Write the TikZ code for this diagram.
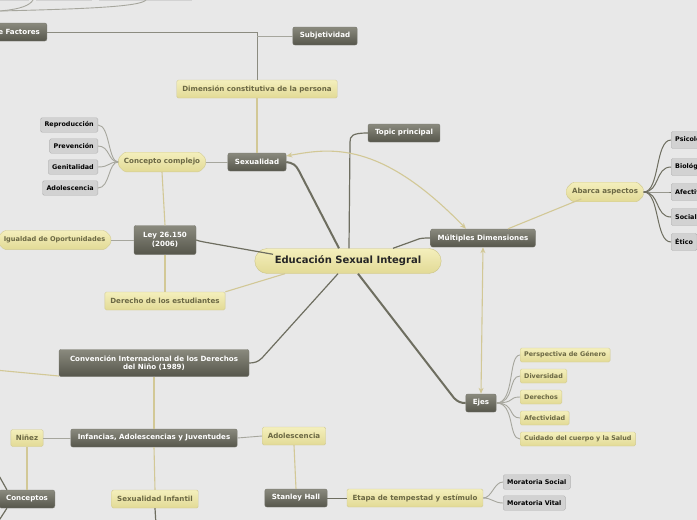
\documentclass[tikz,border=0pt]{standalone}
\usepackage{fontspec}
\setmainfont{DejaVu Sans}
\usetikzlibrary{shapes.misc,arrows.meta}

\definecolor{bgmap}{HTML}{E8E8E8}
\definecolor{darktop}{HTML}{8A8A7E}
\definecolor{darkbot}{HTML}{56564B}
\definecolor{yeltop}{HTML}{F4EFBC}
\definecolor{yelbot}{HTML}{E2DA96}
\definecolor{yeltext}{HTML}{6B6844}
\definecolor{greyfill}{HTML}{D2D2D2}
\definecolor{yelline}{HTML}{D2C896}
\definecolor{darkline}{HTML}{6E6E60}
\definecolor{greyline}{HTML}{A6A69D}

\tikzset{
  darkbox/.style={rounded corners=2pt, top color=darktop, bottom color=darkbot, draw=darkbot!80,
    text=white, font=\bfseries\fontsize{7.1}{8.6}\selectfont, inner xsep=7pt, minimum height=18pt, align=center},
  yelbox/.style={rounded corners=1.5pt, top color=yeltop, bottom color=yelbot, draw=yelbot!90!black!90,
    text=yeltext, font=\bfseries\fontsize{7.1}{8.6}\selectfont, inner xsep=5.5pt, minimum height=18pt},
  yelhex/.style={yelbox, chamfered rectangle, chamfered rectangle xsep=3pt, chamfered rectangle ysep=3pt, inner xsep=2.5pt},
  yelsmall/.style={yelbox, inner xsep=4pt, minimum height=14pt, font=\bfseries\fontsize{6.4}{7.5}\selectfont},
  greybox/.style={rounded corners=1.5pt, fill=greyfill, draw=greyfill!85!black, text=black,
    font=\bfseries\fontsize{6.4}{7.5}\selectfont, inner xsep=4pt, minimum height=14.5pt},
  centre/.style={rounded rectangle, top color=yeltop, bottom color=yelbot, draw=yelbot!90!black,
    text=black!85, font=\bfseries\fontsize{10}{12}\selectfont, minimum width=193pt, minimum height=25pt},
  darkbranch/.style={draw=darkline, line width=2pt},
  darkthin/.style={draw=darkline, line width=1.2pt},
  greybranch/.style={draw=greyline, line width=0.9pt},
  yelbranch/.style={draw=yelline, line width=1.1pt},
  yelarrow/.style={yelbranch, {Stealth[length=6pt,width=5pt,open]}-{Stealth[length=6pt,width=5pt,open]}}
}

\begin{document}
\begin{tikzpicture}[x=1pt,y=-1pt]
  \fill[bgmap] (0,0) rectangle (697,520);
  \clip (0,0) rectangle (697,520);
  \useasboundingbox (0,0) rectangle (697,520);

  % pieces cut off at the top
  \fill[greyfill] (-5,-12) rectangle (29,1);
  \fill[greyfill] (36,-12) rectangle (92,1);
  \fill[greyfill] (99,-12) rectangle (192,1);
  \draw[greybranch] (0,11) .. controls (22,9) and (30,5) .. (33,0);
  \draw[greybranch] (0,11) .. controls (80,9) and (140,7) .. (146,0);

  % centre
  \node[centre] (esi) at (348,261) {Educación Sexual Integral};

  % upper left branch
  \node[darkbox] (sex) at (257,162) {Sexualidad};
  \node[yelbox] (dim) at (257,89) {Dimensión constitutiva de la persona};
  \node[darkbox] (subj) at (325,36) {Subjetividad};
  \node[darkbox, anchor=east] (fac) at (47,32) {de Factores};
  \node[yelhex] (cc) at (162,162) {Concepto complejo};
  \node[greybox, anchor=east] (rep) at (98,125) {Reproducción};
  \node[greybox, anchor=east] (prev) at (98,146) {Prevención};
  \node[greybox, anchor=east] (gen) at (98,167) {Genitalidad};
  \node[greybox, anchor=east] (ado1) at (98,188) {Adolescencia};
  \node[darkbox, minimum height=29pt, minimum width=62pt] (ley) at (165,240) {Ley 26.150\\(2006)};
  \node[yelhex, anchor=east, font=\bfseries\fontsize{6.6}{8}\selectfont] (igu) at (111,240) {Igualdad de Oportunidades};
  \node[yelbox] (der) at (165,301) {Derecho de los estudiantes};

  % right branch
  \node[darkbox] (topic) at (404,133) {Topic principal};
  \node[darkbox] (mult) at (483,238) {Múltiples Dimensiones};
  \node[yelhex] (abar) at (605,192) {Abarca aspectos};
  \node[greybox, anchor=west, minimum height=17pt] (psi) at (671,140) {Psicológico};
  \node[greybox, anchor=west, minimum height=17pt] (bio) at (671,167) {Biológico};
  \node[greybox, anchor=west, minimum height=17pt] (afe) at (671,192) {Afectivo};
  \node[greybox, anchor=west, minimum height=17pt] (soc) at (671,217) {Social};
  \node[greybox, anchor=west, minimum height=17pt] (eti) at (671,242) {Ético};
  \node[darkbox] (ejes) at (481,403) {Ejes};
  \node[yelsmall, anchor=west] (pers) at (520,355) {Perspectiva de Género};
  \node[yelsmall, anchor=west] (div) at (520,376) {Diversidad};
  \node[yelsmall, anchor=west] (dere) at (520,397) {Derechos};
  \node[yelsmall, anchor=west] (afec) at (520,418) {Afectividad};
  \node[yelsmall, anchor=west] (cuid) at (520,439) {Cuidado del cuerpo y la Salud};

  % lower branch
  \node[darkbox, minimum height=27pt, minimum width=190pt] (conv) at (154,363)
    {Convención Internacional de los Derechos\\del Niño (1989)};
  \node[darkbox] (inf) at (154,438) {Infancias, Adolescencias y Juventudes};
  \node[yelbox, minimum height=17pt, inner xsep=5pt] (nin) at (27,438) {Niñez};
  \node[yelbox] (ado2) at (294,436) {Adolescencia};
  \node[yelbox] (sinf) at (155,499) {Sexualidad Infantil};
  \node[darkbox] (conc) at (27,499) {Conceptos};
  \node[darkbox] (hall) at (296,498) {Stanley Hall};
  \node[yelbox] (etap) at (415,498) {Etapa de tempestad y estímulo};
  \node[greybox, anchor=west] (mors) at (503,482) {Moratoria Social};
  \node[greybox, anchor=west] (morv) at (503,503) {Moratoria Vital};

  % connectors from the centre
  \draw[darkbranch] ([xshift=-9pt]esi.north) -- (299,171) .. controls (296,165) and (293,163) .. (sex.east);
  \draw[darkthin] ([xshift=1pt]esi.north) -- (350,142) .. controls (350,136) and (352,133) .. (topic.west);
  \draw[darkthin] ([xshift=45pt]esi.north) -- (416,240) .. controls (420,238) and (424,238) .. (mult.west);
  \draw[darkthin] ([xshift=-75pt,yshift=-6pt]esi.north) -- (204,242) .. controls (200,241) and (198,241) .. (ley.east);
  \draw[darkthin] ([xshift=-10pt]esi.south) -- (262,358) .. controls (258,362) and (254,363) .. (conv.east);
  \draw[darkbranch] ([xshift=10pt]esi.south) -- (454,398) .. controls (458,402) and (461,403) .. (ejes.west);
  \draw[yelbranch] ([xshift=-63pt]esi.south) -- (der.north east);

  % upper left
  \draw[yelbranch] (sex.north) -- (dim.south);
  \draw[greybranch, draw=darkline!80] (dim.north) -- (257,32) -- (fac.east);
  \draw[greybranch] (257,36) -- (subj.west);
  \draw[greybranch] (sex.west) -- (cc.east);
  \foreach \g in {rep,prev,gen,ado1}
    \draw[greybranch] (cc.west) .. controls (108,162) and (110,0|-\g.east) .. (\g.east);
  \draw[yelbranch] (cc.south) -- (ley.north);
  \draw[greybranch] (ley.west) -- (igu.east);
  \draw[yelbranch] (ley.south) -- (der.north);
  \draw[yelarrow] (sex.east |- 0,156) .. controls (330,148) and (380,140) .. ([xshift=-17pt]mult.north);

  % right
  \draw[yelarrow] (mult.south) -- (ejes.north);
  \draw[yelbranch] ([xshift=25pt]mult.north) -- ([xshift=12pt]abar.south west);
  \foreach \g in {psi,bio,afe,soc,eti}
    \draw[darkthin, line width=1pt] (abar.east) .. controls (660,192) and (655,0|-\g.west) .. (\g.west);
  \foreach \g in {pers,div,dere,afec,cuid}
    \draw[greybranch] (ejes.east) .. controls (515,403) and (508,0|-\g.west) .. (\g.west);

  % lower
  \draw[yelbranch] (conv.south) -- (inf.north);
  \draw[yelbranch] (-5,370) -- (conv.west |- 0,376);
  \draw[greybranch] (inf.west) -- (nin.east);
  \draw[greybranch] (inf.east) -- (ado2.west);
  \draw[yelbranch] (inf.south) -- (sinf.north);
  \draw[darkthin] (sinf.south) -- (156,525);
  \draw[yelbranch] (nin.south) -- (conc.north);
  \draw[darkthin] ([xshift=8pt]conc.north west) -- (-2,474);
  \draw[darkthin] ([xshift=8pt]conc.south west) -- (-2,522);
  \draw[yelbranch] (ado2.south) -- (hall.north);
  \draw[darkthin, line width=1pt] (hall.east) -- (etap.west);
  \foreach \g in {mors,morv}
    \draw[greybranch] (etap.east) .. controls (492,498) and (494,0|-\g.west) .. (\g.west);
\end{tikzpicture}
\end{document}
